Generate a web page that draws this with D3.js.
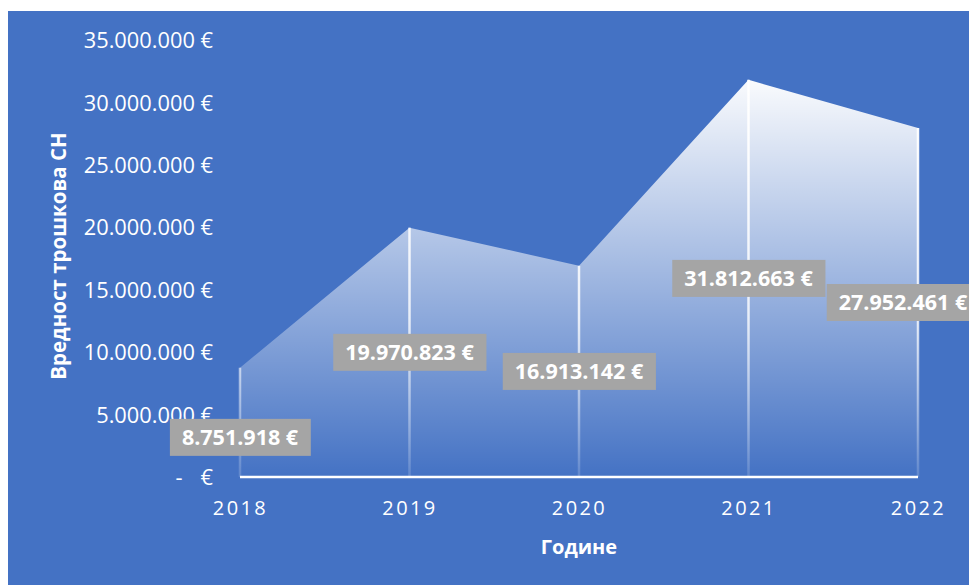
<!DOCTYPE html>
<html>
<head>
<meta charset="utf-8">
<script src="https://cdn.jsdelivr.net/npm/d3@7"></script>
<style>
  html, body { margin: 0; padding: 0; background: #ffffff; }
  svg { display: block; }
  text { font-family: "Open Sans", "Noto Sans", sans-serif; fill: #ffffff; }
</style>
</head>
<body>
<svg id="chart" width="969" height="585"></svg>
<script>
// Annual cost values (EUR)
const years = ["2018", "2019", "2020", "2021", "2022"];
const costs = [8751918, 19970823, 16913142, 31812663, 27952461];
const yTicks = [0, 5000000, 10000000, 15000000, 20000000, 25000000, 30000000, 35000000];

// Label nudges (pixels) so the boxes do not collide
const labelNudgeX = [0, 0, 0, 0, -15];
const labelNudgeY = [15, 0, 0, 0, 0];

const W = 969, H = 585;
const svg = d3.select("#chart");

// Background panel
svg.append("rect")
  .attr("x", 8).attr("y", 11)
  .attr("width", W - 8).attr("height", H - 11)
  .attr("fill", "#4472C4");

const x = d3.scalePoint().domain(years).range([240, 918]);
const y = d3.scaleLinear().domain([0, 35000000]).range([477, 40]);

const locale = d3.formatLocale({ decimal: ",", thousands: ".", grouping: [3], currency: ["", " €"] });
const fmt = locale.format("$,.0f");
const tickFmt = v => v === 0 ? "-\u2002\u2009\u2009€" : fmt(v);

const defs = svg.append("defs");
const areaGrad = defs.append("linearGradient")
  .attr("id", "areaGrad").attr("gradientUnits", "userSpaceOnUse")
  .attr("x1", 0).attr("x2", 0)
  .attr("y1", y(d3.max(costs))).attr("y2", y(0));
areaGrad.append("stop").attr("offset", "0%").attr("stop-color", "#ffffff").attr("stop-opacity", 0.97);
areaGrad.append("stop").attr("offset", "100%").attr("stop-color", "#ffffff").attr("stop-opacity", 0.0);

const lineGrad = defs.append("linearGradient")
  .attr("id", "lineGrad").attr("gradientUnits", "userSpaceOnUse")
  .attr("x1", 0).attr("x2", 0)
  .attr("y1", y(d3.max(costs))).attr("y2", y(0));
lineGrad.append("stop").attr("offset", "0%").attr("stop-color", "#ffffff").attr("stop-opacity", 1);
lineGrad.append("stop").attr("offset", "60%").attr("stop-color", "#ffffff").attr("stop-opacity", 0.8);
lineGrad.append("stop").attr("offset", "100%").attr("stop-color", "#ffffff").attr("stop-opacity", 0.15);

const data = years.map((yr, i) => ({ yr, v: costs[i], i }));

// Area
const area = d3.area().x(d => x(d.yr)).y0(y(0)).y1(d => y(d.v));
svg.append("path").datum(data).attr("d", area).attr("fill", "url(#areaGrad)");

// Drop lines
svg.append("g").selectAll("line").data(data).join("line")
  .attr("x1", d => x(d.yr)).attr("x2", d => x(d.yr))
  .attr("y1", d => y(d.v)).attr("y2", y(0))
  .attr("stroke", "url(#lineGrad)").attr("stroke-width", 2.5);

// Baseline
svg.append("line")
  .attr("x1", x(years[0])).attr("x2", x(years[years.length - 1]))
  .attr("y1", y(0)).attr("y2", y(0))
  .attr("stroke", "#ffffff").attr("stroke-width", 2.5);

// Y axis
const yAxis = d3.axisLeft(y).tickValues(yTicks).tickFormat(tickFmt).tickSize(0).tickPadding(0);
const gy = svg.append("g").attr("transform", "translate(213,0)").call(yAxis);
gy.select(".domain").remove();
gy.selectAll("text")
  .style("font-size", "21.8px").attr("fill", "#ffffff")
  .style("white-space", "pre").attr("dy", "0.35em");

// X axis
const xAxis = d3.axisBottom(x).tickSize(0).tickPadding(0);
const gx = svg.append("g").attr("transform", `translate(0,${y(0) + 31})`).call(xAxis);
gx.select(".domain").remove();
gx.selectAll("text")
  .style("font-size", "20px").style("letter-spacing", "2.4px")
  .attr("fill", "#ffffff").attr("dy", "0.35em");

// Axis titles
svg.append("text")
  .attr("x", 579).attr("y", 547).attr("text-anchor", "middle").attr("dy", "0.35em")
  .style("font-size", "20px").style("font-weight", "bold")
  .text("Године");
svg.append("text")
  .attr("transform", "translate(59,256) rotate(-90)")
  .attr("text-anchor", "middle").attr("dy", "0.35em")
  .style("font-size", "20.5px").style("font-weight", "bold")
  .text("Вредност трошкова СН");

// Data labels
const lbl = svg.append("g").selectAll("g").data(data).join("g")
  .attr("transform", d => `translate(${x(d.yr) + labelNudgeX[d.i]},${y(d.v / 2) + labelNudgeY[d.i]})`);
lbl.append("text")
  .attr("text-anchor", "middle").attr("dy", "0.36em")
  .style("font-size", "21.5px").style("font-weight", "bold")
  .text(d => fmt(d.v));
lbl.each(function () {
  const g = d3.select(this);
  const b = g.select("text").node().getBBox();
  g.insert("rect", "text")
    .attr("x", b.x - 12).attr("y", -18.5)
    .attr("width", b.width + 24).attr("height", 37)
    .attr("fill", "#A5A5A5");
});
</script>
</body>
</html>
